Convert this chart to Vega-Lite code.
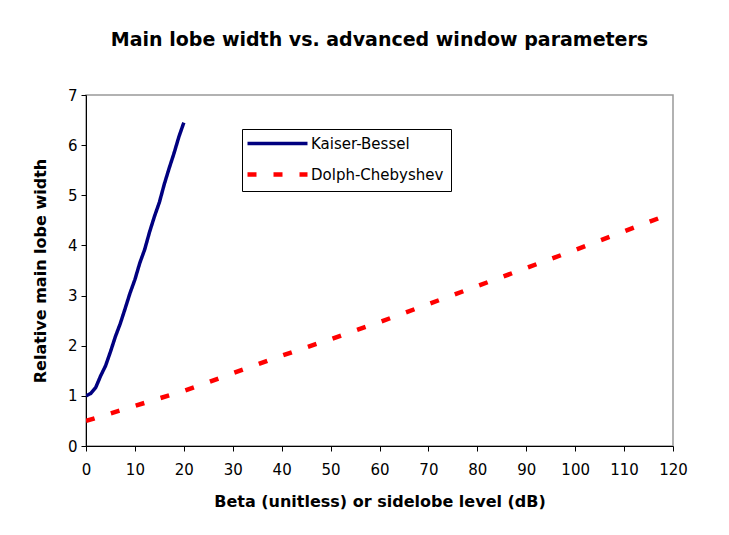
{
  "$schema": "https://vega.github.io/schema/vega-lite/v6.json",
  "width": 587,
  "height": 351,
  "autosize": {"type": "none"},
  "padding": {"left": 86, "top": 95, "right": 56, "bottom": 89},
  "background": "white",
  "title": {
    "text": "Main lobe width vs. advanced window parameters",
    "font": "DejaVu Sans",
    "fontSize": 19,
    "fontWeight": "bold",
    "color": "black",
    "anchor": "middle",
    "offset": 38
  },
  "data": {
    "values": [
      {"series": "Kaiser-Bessel", "x": 0, "y": 1.0},
      {"series": "Kaiser-Bessel", "x": 1, "y": 1.05},
      {"series": "Kaiser-Bessel", "x": 2, "y": 1.17},
      {"series": "Kaiser-Bessel", "x": 3, "y": 1.4},
      {"series": "Kaiser-Bessel", "x": 4, "y": 1.6},
      {"series": "Kaiser-Bessel", "x": 5, "y": 1.88},
      {"series": "Kaiser-Bessel", "x": 6, "y": 2.18},
      {"series": "Kaiser-Bessel", "x": 7, "y": 2.44},
      {"series": "Kaiser-Bessel", "x": 8, "y": 2.74},
      {"series": "Kaiser-Bessel", "x": 9, "y": 3.05},
      {"series": "Kaiser-Bessel", "x": 10, "y": 3.32},
      {"series": "Kaiser-Bessel", "x": 11, "y": 3.65},
      {"series": "Kaiser-Bessel", "x": 12, "y": 3.92},
      {"series": "Kaiser-Bessel", "x": 13, "y": 4.27},
      {"series": "Kaiser-Bessel", "x": 14, "y": 4.58},
      {"series": "Kaiser-Bessel", "x": 15, "y": 4.86},
      {"series": "Kaiser-Bessel", "x": 16, "y": 5.22},
      {"series": "Kaiser-Bessel", "x": 17, "y": 5.54},
      {"series": "Kaiser-Bessel", "x": 18, "y": 5.84},
      {"series": "Kaiser-Bessel", "x": 19, "y": 6.17},
      {"series": "Kaiser-Bessel", "x": 20, "y": 6.45},
      {"series": "Dolph-Chebyshev", "x": 0, "y": 0.5},
      {"series": "Dolph-Chebyshev", "x": 5, "y": 0.65},
      {"series": "Dolph-Chebyshev", "x": 10, "y": 0.8},
      {"series": "Dolph-Chebyshev", "x": 15, "y": 0.95},
      {"series": "Dolph-Chebyshev", "x": 20, "y": 1.1},
      {"series": "Dolph-Chebyshev", "x": 25, "y": 1.27},
      {"series": "Dolph-Chebyshev", "x": 30, "y": 1.45},
      {"series": "Dolph-Chebyshev", "x": 40, "y": 1.8},
      {"series": "Dolph-Chebyshev", "x": 50, "y": 2.13},
      {"series": "Dolph-Chebyshev", "x": 60, "y": 2.47},
      {"series": "Dolph-Chebyshev", "x": 70, "y": 2.83},
      {"series": "Dolph-Chebyshev", "x": 80, "y": 3.19},
      {"series": "Dolph-Chebyshev", "x": 90, "y": 3.55},
      {"series": "Dolph-Chebyshev", "x": 100, "y": 3.91},
      {"series": "Dolph-Chebyshev", "x": 110, "y": 4.28},
      {"series": "Dolph-Chebyshev", "x": 120, "y": 4.65}
    ]
  },
  "mark": {"type": "line", "strokeCap": "butt", "clip": true},
  "encoding": {
    "x": {
      "field": "x",
      "type": "quantitative",
      "scale": {"domain": [0, 120], "nice": false, "zero": false},
      "axis": {
        "title": "Beta (unitless) or sidelobe level (dB)",
        "values": [0, 10, 20, 30, 40, 50, 60, 70, 80, 90, 100, 110, 120],
        "labelFlush": false,
        "labelOverlap": false,
        "titlePadding": 16,
        "labelPadding": 11
      }
    },
    "y": {
      "field": "y",
      "type": "quantitative",
      "scale": {"domain": [0, 7], "nice": false},
      "axis": {
        "title": "Relative main lobe width",
        "values": [0, 1, 2, 3, 4, 5, 6, 7],
        "labelFlush": false,
        "titlePadding": 19,
        "labelPadding": 4
      }
    },
    "color": {
      "field": "series",
      "type": "nominal",
      "scale": {"domain": ["Kaiser-Bessel", "Dolph-Chebyshev"], "range": ["#000080", "#FF0000"]},
      "legend": {"title": null}
    },
    "strokeDash": {
      "field": "series",
      "type": "nominal",
      "scale": {"domain": ["Kaiser-Bessel", "Dolph-Chebyshev"], "range": [[1, 0], [9, 17]]},
      "legend": {"title": null}
    },
    "strokeWidth": {
      "field": "series",
      "type": "nominal",
      "scale": {"domain": ["Kaiser-Bessel", "Dolph-Chebyshev"], "range": [3.5, 4.5]},
      "legend": null
    }
  },
  "config": {
    "view": {"stroke": "#999999", "strokeWidth": 1.5},
    "axis": {
      "grid": false,
      "domainColor": "black",
      "domainWidth": 1,
      "tickColor": "black",
      "tickSize": 5,
      "labelFont": "DejaVu Sans",
      "labelFontSize": 15,
      "labelColor": "black",
      "titleFont": "DejaVu Sans",
      "titleFontSize": 16,
      "titleFontWeight": "bold",
      "titleColor": "black"
    },
    "legend": {
      "orient": "none",
      "legendX": 156,
      "legendY": 34,
      "strokeColor": "black",
      "fillColor": "white",
      "padding": 7,
      "symbolType": "M-9,0H51",
      "symbolSize": 4,
      "symbolStrokeWidth": 4,
      "labelFont": "DejaVu Sans",
      "labelFontSize": 15,
      "labelColor": "black",
      "labelOffset": 47,
      "rowPadding": 13
    }
  }
}
